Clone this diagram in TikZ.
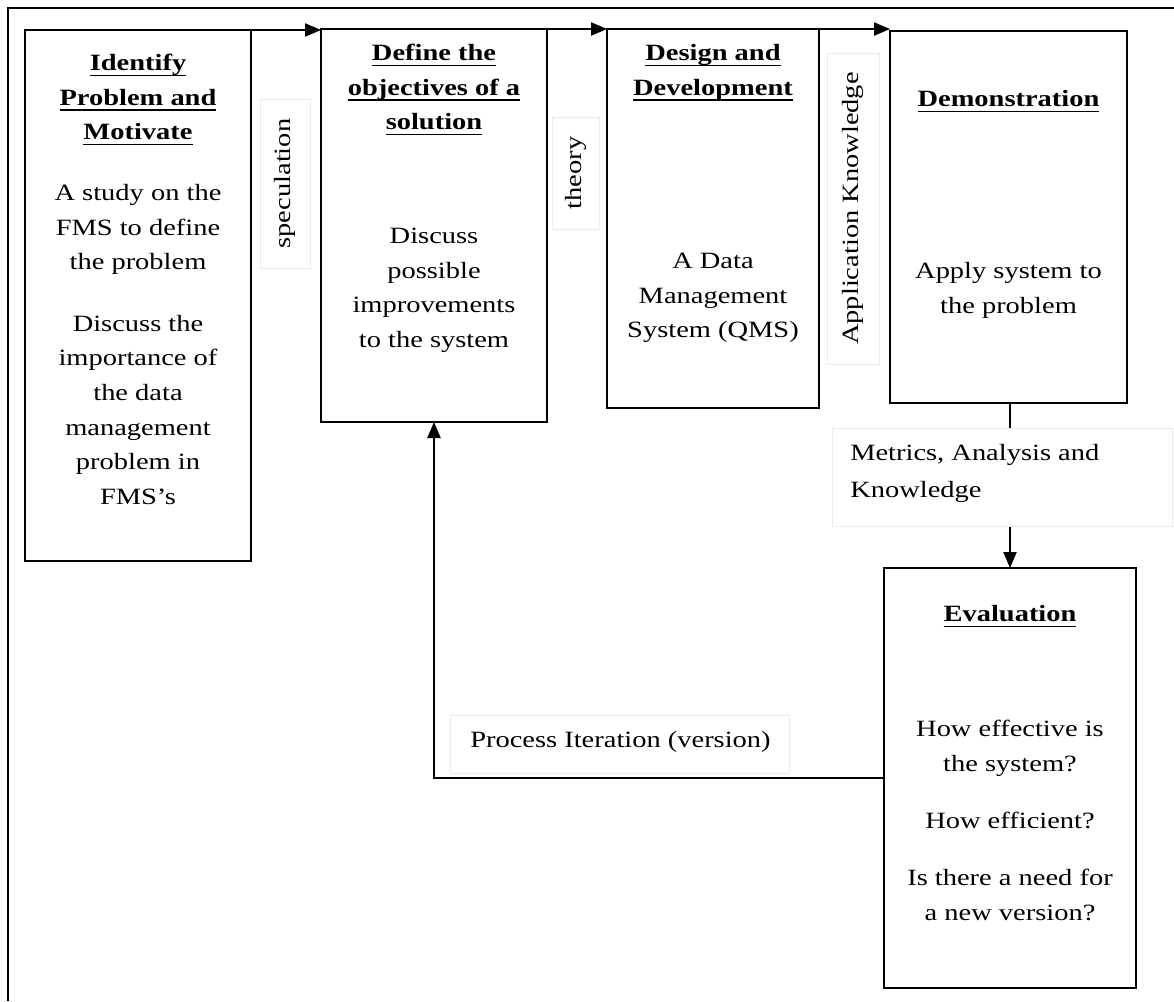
\documentclass[tikz,border=0pt]{standalone}
\usepackage{fontspec}
\setmainfont{Liberation Serif}[FakeStretch=1.22]
\usetikzlibrary{arrows.meta,fit}
% underline at a fixed depth below the baseline
\newcommand\ulined[1]{\leavevmode\setbox0\hbox{#1}\rlap{\rule[-4pt]{\wd0}{1pt}}\box0}
\newcommand\stagefont{\fontsize{17.5}{26}\selectfont}
\begin{document}
\begin{tikzpicture}[x=0.75pt,y=-0.75pt,
  stage/.style={draw, line width=1.9pt, inner sep=0pt, outer sep=0pt},
  tag/.style={draw=black!8, fill=white, line width=0.6pt, inner sep=0pt, outer sep=0pt},
  words/.style={inner sep=0pt, anchor=north, align=center, font=\stagefont},
  sidewords/.style={inner sep=0pt, rotate=90, font=\stagefont},
  flow/.style={line width=0.8pt, -{Triangle[length=12pt,width=10pt]}},
]
\useasboundingbox (0,0) rectangle (1174,1001);
% outer frame
\draw[line width=1.5pt] (8,1001) -- (8,8) -- (1174,8);

% process stages
\node[stage, fit={(25,30) (251,561)}] (b1) {};
\node[stage, fit={(321,29) (547,422)}] (b2) {};
\node[stage, fit={(607,29) (819,408)}] (b3) {};
\node[stage, fit={(890,31) (1127,403)}] (b4) {};
\node[stage, fit={(884,568) (1136,988)}] (ev) {};

% stage texts
\node[words] (b1title) at (138,46) {\strut\ulined{\bfseries Identify}\\ \ulined{\bfseries Problem and}\\ \ulined{\bfseries Motivate}};
\node[words] (b1body) at (138,176) {\strut A study on the\\ FMS to define\\ the problem\\[20pt] Discuss the\\ importance of\\ the data\\ management\\ problem in\\ FMS’s};

\node[words] (b2title) at (434,36) {\strut\ulined{\bfseries Define the}\\ \ulined{\bfseries objectives of a}\\ \ulined{\bfseries solution}};
\node[words] (b2body) at (434,219) {\strut Discuss\\ possible\\ improvements\\ to the system};

\node[words] (b3title) at (713,36) {\strut\ulined{\bfseries Design and}\\ \ulined{\bfseries Development}};
\node[words] (b3body) at (713,244) {\strut A Data\\ Management\\ System (QMS)};

\node[words] (b4title) at (1008.5,82) {\strut\ulined{\bfseries Demonstration}};
\node[words] (b4body) at (1008.5,254) {\strut Apply system to\\ the problem};

\node[words] (evtitle) at (1010,597) {\strut\ulined{\bfseries Evaluation}};
\node[words] (evbody) at (1010,712) {\strut How effective is\\ the system?\\[17pt] How efficient?\\[17pt] Is there a need for\\ a new version?};

% connectors
\draw[flow] (b1.north east) -- (b1.north east -| b2.west);
\draw[flow] (b2.north east) -- (b2.north east -| b3.west);
\draw[flow] (b3.north east) -- (b3.north east -| b4.west);
\draw[flow] (b4.south -| ev.north) -- (ev.north);
\draw[flow] (ev.west) -| (b2.south);

% connector labels
\node[tag, fit={(260,99) (310,268)}] (specbox) {};
\node[sidewords] (spec) at (specbox.center) {speculation};
\node[tag, fit={(552,117) (599,229)}] (theorybox) {};
\node[sidewords] (theory) at (theorybox.center) {theory};
\node[tag, fit={(827,53) (879,364)}] (appbox) {};
\node[sidewords] (app) at (appbox.center) {Application Knowledge};
\node[tag, fit={(832,428) (1172,526)}] (metricbox) {};
\node[inner sep=0pt, anchor=north west, align=left, font=\stagefont] (metric) at (850,435.7) {\strut Metrics, Analysis and\\[2pt] Knowledge};
\node[tag, fit={(450,715) (789,773)}] (iterbox) {};
\node[inner sep=0pt, anchor=north west, font=\stagefont] (iter) at (470,722.7) {\strut Process Iteration (version)};
\end{tikzpicture}
\end{document}
